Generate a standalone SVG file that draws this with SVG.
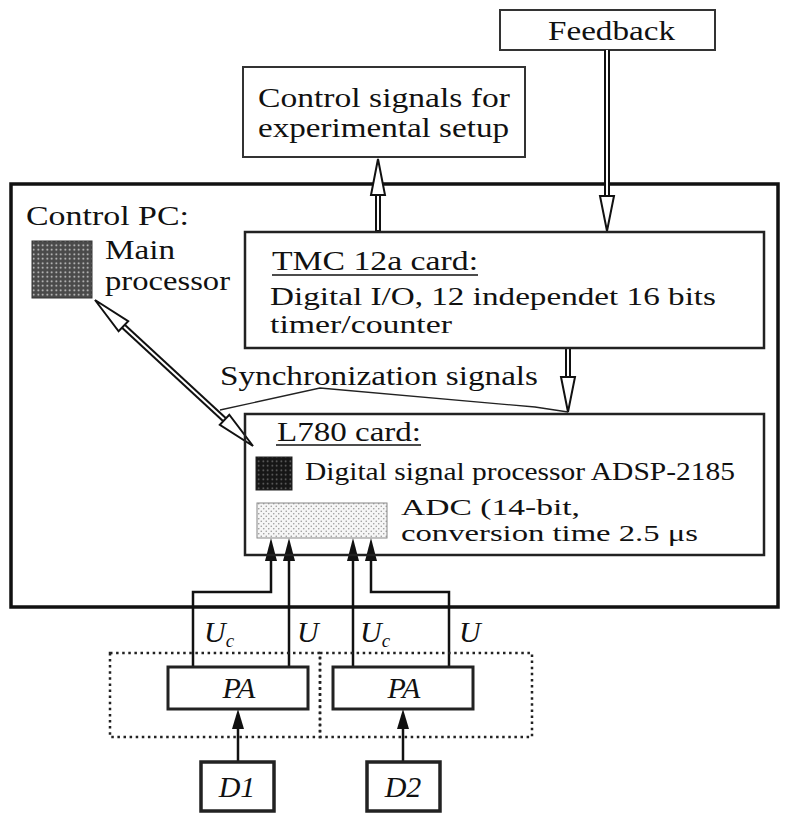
<svg xmlns="http://www.w3.org/2000/svg" width="786" height="821" viewBox="0 0 786 821">
<defs>
<style>
.t{font-family:"Liberation Serif","Times New Roman",serif;font-size:28px;fill:#111}
.t2{font-size:27px}
.t3{font-size:25px}
.ti{font-family:"Liberation Serif","Times New Roman",serif;font-style:italic;font-size:30px;fill:#111}
.box{fill:#fff;stroke:#222;stroke-width:2.5}
.lbox{fill:#fff;stroke:#333;stroke-width:2}
.sig{fill:none;stroke:#111;stroke-width:2.5}
.dbo{fill:none;stroke:#111;stroke-width:6}
.dbi{fill:none;stroke:#fff;stroke-width:2}
.oh{fill:#fff;stroke:#111;stroke-width:2;stroke-linejoin:miter}
.fh{fill:#111;stroke:none}
.dot{fill:none;stroke:#222;stroke-width:2.5;stroke-dasharray:2.5 3.6}
.ul{stroke:#111;stroke-width:1.6}
</style>
<pattern id="pMain" width="4.5" height="4.5" patternUnits="userSpaceOnUse">
<rect width="4.5" height="4.5" fill="#4a4a4a"/>
<circle cx="2.25" cy="2.25" r="0.9" fill="#ddd"/>
</pattern>
<pattern id="pDsp" width="4.5" height="4.5" patternUnits="userSpaceOnUse">
<rect width="4.5" height="4.5" fill="#161616"/>
<circle cx="2.25" cy="2.25" r="0.8" fill="#777"/>
</pattern>
<pattern id="pAdc" width="5" height="5" patternUnits="userSpaceOnUse">
<rect width="5" height="5" fill="#f6f6f6"/>
<circle cx="1.25" cy="1.25" r="0.8" fill="#9a9a9a"/>
<circle cx="3.75" cy="3.75" r="0.8" fill="#9a9a9a"/>
</pattern>
</defs>

<g id="control-pc">
<rect x="11" y="184" width="767" height="423" fill="none" stroke="#111" stroke-width="3.5"/>
<text class="t" x="26" y="225" textLength="163" lengthAdjust="spacingAndGlyphs">Control PC:</text>
</g>

<g id="main-processor">
<rect x="32" y="241" width="60" height="57" fill="url(#pMain)" stroke="#333" stroke-width="1"/>
<text class="t t2" x="105" y="259" textLength="70" lengthAdjust="spacingAndGlyphs">Main</text>
<text class="t t2" x="105" y="290" textLength="125" lengthAdjust="spacingAndGlyphs">processor</text>
</g>

<g id="feedback">
<rect class="lbox" x="500" y="10" width="215" height="40"/>
<text class="t" x="548" y="40" textLength="127" lengthAdjust="spacingAndGlyphs">Feedback</text>
</g>

<g id="control-signals">
<rect class="lbox" x="243" y="67" width="282" height="90"/>
<text class="t t2" x="258" y="107" textLength="252" lengthAdjust="spacingAndGlyphs">Control signals for</text>
<text class="t t2" x="258" y="137" textLength="251" lengthAdjust="spacingAndGlyphs">experimental setup</text>
</g>

<g id="connectors">
<path class="dbo" d="M607 50V197"/>
<path class="dbi" d="M607 50V197"/>
<polygon class="oh" points="600,196 614,196 607,231"/>
<path class="dbo" d="M378 232V194"/>
<path class="dbi" d="M378 230V194"/>
<polygon class="oh" points="371,195 385,195 378,159"/>
<path class="dbo" d="M568 347V378"/>
<path class="dbi" d="M568 349V378"/>
<polygon class="oh" points="561,377 575,377 568,412"/>
<path class="dbo" d="M123.4 326.2L224.6 419.8"/>
<path class="dbi" d="M123.4 326.2L224.6 419.8"/>
<polygon class="oh" points="95,300 118.6,331.3 128.2,321.1"/>
<polygon class="oh" points="253,446 219.8,424.9 229.3,414.7"/>
<polyline points="220,410 320,388 535,407 568,412" fill="none" stroke="#222" stroke-width="1.3"/>
<path class="sig" d="M193 667V592H271V558"/>
<path class="sig" d="M289 667V558"/>
<path class="sig" d="M353 667V558"/>
<path class="sig" d="M449 667V592H371V558"/>
<polygon class="fh" points="271,538 265,561 277,561"/>
<polygon class="fh" points="289,538 283,561 295,561"/>
<polygon class="fh" points="353,538 347,561 359,561"/>
<polygon class="fh" points="371,538 365,561 377,561"/>
<path class="sig" d="M238 762V727"/>
<path class="sig" d="M403 762V727"/>
<polygon class="fh" points="238,709 232,729 244,729"/>
<polygon class="fh" points="403,709 397,729 409,729"/>
</g>

<g id="tmc-card">
<rect class="box" x="245" y="232" width="519" height="116" style="fill:none"/>
<text class="t" x="272" y="270" textLength="206" lengthAdjust="spacingAndGlyphs">TMC 12a card:</text>
<line class="ul" x1="272" y1="275" x2="478" y2="275"/>
<text class="t t3" x="270" y="305" textLength="446" lengthAdjust="spacingAndGlyphs">Digital I/O, 12 independet 16 bits</text>
<text class="t t3" x="270" y="333" textLength="182" lengthAdjust="spacingAndGlyphs">timer/counter</text>
</g>

<text class="t" x="220" y="385" textLength="318" lengthAdjust="spacingAndGlyphs">Synchronization signals</text>

<g id="l780-card">
<rect class="box" x="245" y="414" width="519" height="141" style="fill:none"/>
<text class="t" x="277" y="441" textLength="144" lengthAdjust="spacingAndGlyphs">L780 card:</text>
<line class="ul" x1="276" y1="445" x2="421" y2="445"/>
</g>

<g id="dsp">
<rect x="256" y="457" width="36" height="33" fill="url(#pDsp)" stroke="#222" stroke-width="1"/>
<text class="t" x="305" y="480" style="font-size:26px" textLength="430" lengthAdjust="spacingAndGlyphs">Digital signal processor ADSP-2185</text>
</g>

<g id="adc">
<rect x="257" y="503" width="130" height="35" fill="url(#pAdc)" stroke="#888" stroke-width="1"/>
<text class="t" x="401" y="515" style="font-size:24px" textLength="179" lengthAdjust="spacingAndGlyphs">ADC (14-bit,</text>
<text class="t" x="401" y="541" style="font-size:24px" textLength="297" lengthAdjust="spacingAndGlyphs">conversion time 2.5 μs</text>
</g>

<g id="signal-labels">
<text class="ti" x="204" y="642">U<tspan style="font-size:19px" dy="5">c</tspan></text>
<text class="ti" x="297" y="642">U</text>
<text class="ti" x="360" y="642">U<tspan style="font-size:19px" dy="5">c</tspan></text>
<text class="ti" x="459" y="642">U</text>
</g>

<g id="group1">
<rect class="dot" x="110" y="653" width="210" height="84"/>
</g>
<g id="group2">
<rect class="dot" x="320" y="653" width="212" height="84"/>
</g>

<g id="pa1">
<rect class="box" x="168" y="667" width="140" height="42" style="stroke-width:3"/>
<text class="ti" x="239" y="698" text-anchor="middle">PA</text>
</g>
<g id="pa2">
<rect class="box" x="333" y="667" width="140" height="42" style="stroke-width:3"/>
<text class="ti" x="404" y="698" text-anchor="middle">PA</text>
</g>

<g id="d1">
<rect class="box" x="201" y="762" width="73" height="49" style="stroke-width:3.5"/>
<text class="ti" x="237" y="797" text-anchor="middle">D1</text>
</g>
<g id="d2">
<rect class="box" x="367" y="762" width="73" height="49" style="stroke-width:3.5"/>
<text class="ti" x="403" y="797" text-anchor="middle">D2</text>
</g>
</svg>
